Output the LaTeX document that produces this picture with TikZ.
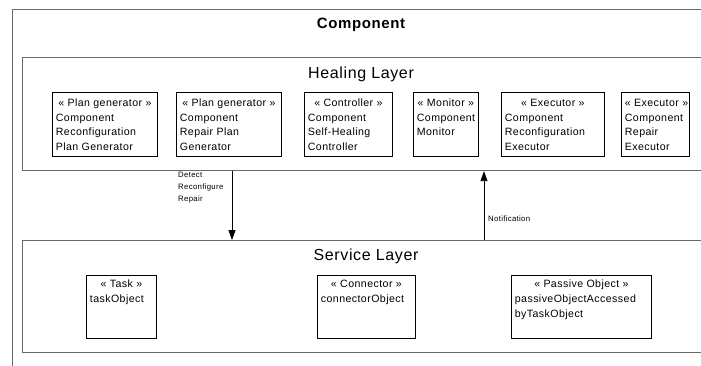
\documentclass[tikz,border=0pt]{standalone}
\usepackage{fontspec}
\setmainfont{Liberation Sans}
\newfontfamily\boxfont[LetterSpace=4]{Liberation Sans}
\usetikzlibrary{arrows.meta}
\newcommand\stx[4]{\begin{minipage}[t][#2][t]{#1}\centering\mbox{#3}\par\raggedright #4\end{minipage}}
\begin{document}
\begin{tikzpicture}[x=1pt,y=-1pt,
  layer/.style={draw={rgb,255:red,105;green,105;blue,105}, line width=1.1pt, inner sep=0pt, anchor=north west},
  cbox/.style={draw=black, line width=0.8pt, inner xsep=3.5pt, inner ysep=0pt, anchor=north west,
    font=\boxfont\fontsize{10.6}{14.8}\selectfont},
  title/.style={font=\boxfont\fontsize{16}{19}\selectfont, inner sep=0pt},
  small/.style={font=\boxfont\fontsize{7.8}{12}\selectfont, inner sep=0pt, align=left},
  arr/.style={draw=black, line width=0.8pt, -{Triangle[length=10pt,width=7pt]}}]
\useasboundingbox (0,0) rectangle (701,366);
\clip (0,0) rectangle (701,366);
\fill[white] (0,0) rectangle (701,366);
% outer component
\node[layer, minimum width=720pt, minimum height=420pt] (comp) at (12,9) {};
\node[font=\boxfont\bfseries\fontsize{15}{18}\selectfont, inner sep=0pt] (ctitle) at (361,25) {Component};
% healing layer
\node[layer, minimum width=720pt, minimum height=113pt] (heal) at (22,57) {};
\node[title] (htitle) at (361,74) {Healing Layer};
\node[cbox] (b1) at (52,92)  {\stx{98pt}{64pt}{\rule{0pt}{14pt}« Plan generator »}{Component\\Reconfiguration\\Plan Generator}};
\node[cbox] (b2) at (176,92) {\stx{98pt}{64pt}{\rule{0pt}{14pt}« Plan generator »}{Component\\Repair Plan\\Generator}};
\node[cbox] (b3) at (304,92) {\stx{81pt}{64pt}{\rule{0pt}{14pt}« Controller »}{Component\\Self-Healing\\Controller}};
\node[cbox] (b4) at (413,92) {\stx{58pt}{64pt}{\rule{0pt}{14pt}« Monitor »}{Component\\Monitor}};
\node[cbox] (b5) at (501,92) {\stx{96pt}{64pt}{\rule{0pt}{14pt}« Executor »}{Component\\Reconfiguration\\Executor}};
\node[cbox] (b6) at (621,92) {\stx{61pt}{64pt}{\rule{0pt}{14pt}« Executor »}{Component\\Repair\\Executor}};
% service layer
\node[layer, minimum width=720pt, minimum height=112pt] (serv) at (22,240) {};
\node[title] (stitle) at (366,256) {Service Layer};
\node[cbox] (t1) at (86,275)  {\stx{63pt}{63pt}{\rule{0pt}{12.5pt}« Task »}{taskObject}};
\node[cbox] (t2) at (317,275) {\stx{91pt}{63pt}{\rule{0pt}{12.5pt}« Connector »}{connectorObject}};
\node[cbox] (t3) at (511,275) {\stx{133pt}{63pt}{\rule{0pt}{12.5pt}« Passive Object »}{passiveObjectAccessed\\byTaskObject}};
% connectors
\coordinate (dn) at (232,0);
\coordinate (up) at (484,0);
\draw[arr] (heal.south -| dn) -- (serv.north -| dn);
\draw[arr] (serv.north -| up) -- (heal.south -| up);
\node[small, anchor=north west] (lbl1) at (178,171.5) {Detect\\Reconfigure\\Repair};
\node[small, anchor=west] (lbl2) at (488,219) {Notification};
\end{tikzpicture}
\end{document}
